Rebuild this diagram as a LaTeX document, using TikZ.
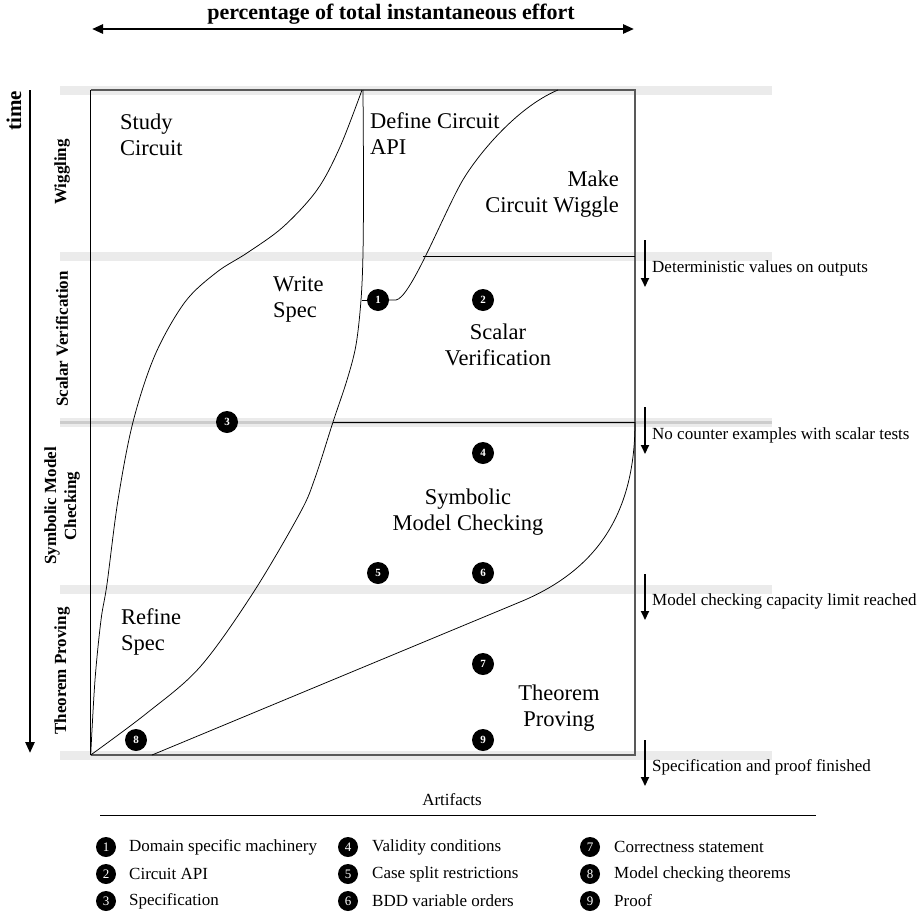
\documentclass[tikz,border=0pt]{standalone}
\usepackage{fontspec}
\setmainfont{Liberation Serif}
\usetikzlibrary{arrows.meta}
\begin{document}
\begin{tikzpicture}[x=1pt,y=-1pt,
 band/.style={line width=9pt, black!8},
 bandd/.style={line width=3pt, black!20},
 frame/.style={line width=1.1pt, black!65},
 curve/.style={line width=0.75pt, black},
 num/.style={circle, fill=black, text=white, inner sep=0pt, minimum size=22pt, font=\bfseries\fontsize{11}{11}\selectfont},
 lnum/.style={circle, fill=black, text=white, inner sep=0pt, minimum size=20pt, font=\fontsize{13}{13}\selectfont},
 region/.style={inner sep=0pt, align=left, font=\fontsize{22.5}{26}\selectfont},
 regionc/.style={inner sep=0pt, align=center, font=\fontsize{22.5}{26}\selectfont},
 regionr/.style={inner sep=0pt, align=right, font=\fontsize{22.5}{26}\selectfont},
 phase/.style={rotate=90, inner sep=0pt, align=center, font=\bfseries\fontsize{17}{20}\selectfont},
 note/.style={inner sep=0pt, anchor=base west, font=\fontsize{17}{20}\selectfont},
 legtext/.style={inner sep=0pt, anchor=west, font=\fontsize{17}{20}\selectfont},
 bigarrow/.style={line width=2.6pt},
 notearrow/.style={line width=2pt, -{Triangle[length=9pt,width=8pt]}}
]
\useasboundingbox (0,0) rectangle (924,921);

% title and time axis
\node[font=\bfseries\fontsize{22}{24}\selectfont, inner sep=0pt] (title) at (391,14) {percentage of total instantaneous effort};
\coordinate (tl) at (92,29);
\coordinate (tr) at (634,29);
\draw[bigarrow, {Triangle[length=11pt,width=9pt]}-{Triangle[length=11pt,width=9pt]}] (tl) -- (tr);
\node[rotate=90, font=\bfseries\fontsize{21}{23}\selectfont, inner sep=0pt] (time) at (14,111) {time};
\coordinate (ttop) at (30,90);
\coordinate (tbot) at (30,753);
\draw[bigarrow, -{Triangle[length=11pt,width=9pt]}] (ttop) -- (tbot);

% bands
\draw[band] (60,90) -- (772,90);
\draw[band] (60,256) -- (772,256);
\draw[band] (60,422) -- (772,422);
\draw[bandd] (60,422) -- (772,422);
\draw[band] (60,589) -- (772,589);
\draw[band] (60,755) -- (772,755);

% frame
\draw[frame] (90.7,90) -- (635,90) -- (635,755) -- (90.7,755);
\draw[curve] (90.7,90) -- (90.7,755);
\draw[curve] (423,256) -- (635,256);
\draw[curve] (333,422) -- (635,422);

% nodes
\node[num] (n1) at (378,300) {1};
\node[num] (n2) at (483,300) {2};
\node[num] (n3) at (227,422) {3};
\node[num] (n4) at (483,453) {4};
\node[num] (n5) at (378,573) {5};
\node[num] (n6) at (483,573) {6};
\node[num] (n7) at (483,664) {7};
\node[num] (n8) at (136,740) {8};
\node[num] (n9) at (483,740) {9};

% curves
\draw[curve] plot[smooth, tension=0.55] coordinates {(90.7,755) (95,680) (101,620) (107,584) (118,500) (133,422) (155,355) (185,302) (217,272) (247,253) (283,227) (317,190) (340,147) (362,90)};
\draw[curve] plot[smooth, tension=0.55] coordinates {(90.7,755) (147,713) (200,667) (253,593) (300,513) (315,478) (333,422) (347,380) (356,345) (361,300) (363,253) (363.5,180) (363,90)};
\coordinate (b1) at (361.5,300);
\draw[curve] (b1) -- (n1.west);
\draw[curve] (n1.east) -- (396,300) .. controls (410,298) and (440,222) .. (460,185) .. controls (474,159) and (515,108) .. (558,90);
\draw[curve] (152,755) -- (520,602) .. controls (600,569) and (635,510) .. (635,422);

% region labels
\node[region, anchor=west] (study) at (120,134.6) {Study\\Circuit};
\node[region, anchor=west] (write) at (273,299.6) {Write\\Spec};
\node[region, anchor=west] (define) at (370,134) {Define Circuit\\API};
\node[regionr, anchor=east] (make) at (619,194) {Make\\Circuit Wiggle};
\node[regionc] (scalar) at (498,345) {Scalar\\Verification};
\node[regionc] (symb) at (468,512) {Symbolic\\Model Checking};
\node[region, anchor=west] (refine) at (121,632) {Refine\\Spec};
\node[regionc] (thm) at (559,708) {Theorem\\Proving};

% phase labels
\node[phase] (pw) at (62,172) {Wiggling};
\node[phase] (ps) at (62,339) {Scalar Verification};
\node[phase] (pm) at (62,506) {Symbolic Model\\Checking};
\node[phase] (pt) at (62,671) {Theorem Proving};

% milestone notes
\coordinate (a1s) at (645,240); \coordinate (a1e) at (645,287);
\coordinate (a2s) at (645,407); \coordinate (a2e) at (645,454);
\coordinate (a3s) at (645,574); \coordinate (a3e) at (645,620);
\coordinate (a4s) at (645,740); \coordinate (a4e) at (645,786);
\draw[notearrow] (a1s) -- (a1e);
\draw[notearrow] (a2s) -- (a2e);
\draw[notearrow] (a3s) -- (a3e);
\draw[notearrow] (a4s) -- (a4e);
\node[note] (m1) at (652,272) {Deterministic values on outputs};
\node[note] (m2) at (652,439) {No counter examples with scalar tests};
\node[note] (m3) at (652,605) {Model checking capacity limit reached};
\node[note] (m4) at (652,771) {Specification and proof finished};

% legend
\node[font=\fontsize{17}{20}\selectfont, inner sep=0pt] (art) at (452,800) {Artifacts};
\coordinate (ll) at (100,815);
\coordinate (lr) at (816,815);
\draw[line width=0.8pt] (ll) -- (lr);
\node[lnum] (l1) at (106,847) {1};
\node[lnum] (l2) at (106,874) {2};
\node[lnum] (l3) at (106,901) {3};
\node[lnum] (l4) at (348,847) {4};
\node[lnum] (l5) at (348,874) {5};
\node[lnum] (l6) at (348,901) {6};
\node[lnum] (l7) at (590,847) {7};
\node[lnum] (l8) at (590,874) {8};
\node[lnum] (l9) at (590,901) {9};
\node[legtext] (t1) at (129,847) {Domain specific machinery};
\node[legtext] (t2) at (129,874) {Circuit API};
\node[legtext] (t3) at (129,901) {Specification};
\node[legtext] (t4) at (372,847) {Validity conditions};
\node[legtext] (t5) at (372,874) {Case split restrictions};
\node[legtext] (t6) at (372,901) {BDD variable orders};
\node[legtext] (t7) at (614,847) {Correctness statement};
\node[legtext] (t8) at (614,874) {Model checking theorems};
\node[legtext] (t9) at (614,901) {Proof};
\end{tikzpicture}
\end{document}
